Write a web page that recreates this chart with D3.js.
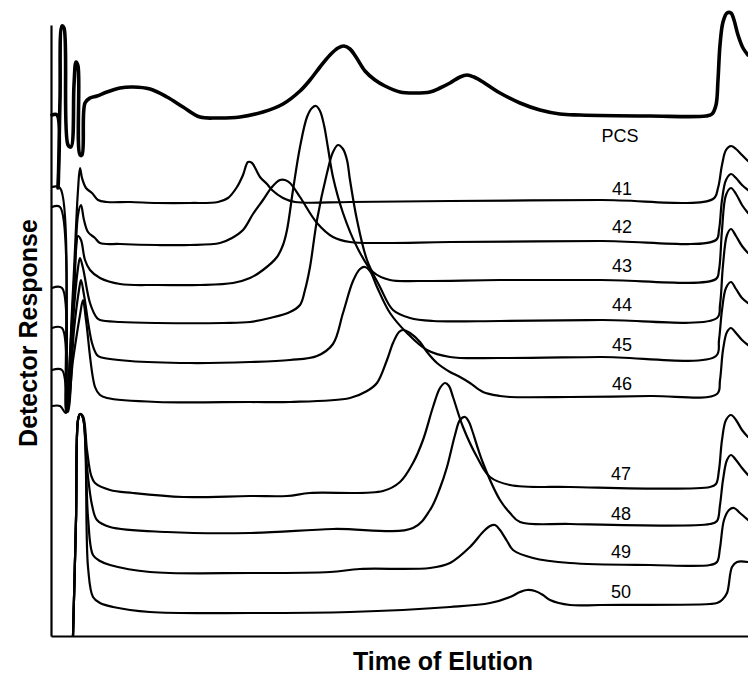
<!DOCTYPE html>
<html>
<head>
<meta charset="utf-8">
<script src="https://cdn.jsdelivr.net/npm/d3@7"></script>
<style>
  html, body { margin: 0; padding: 0; background: #fff; }
  svg { display: block; }
</style>
</head>
<body>
<svg id="chart" width="748" height="675"></svg>
<script>
// ---- Data: [time of elution, detector response] (arbitrary units) ----
const pcs = [[0.1,52.1],[0.6,52.1],[0.7,44.8],[0.9,53.6],[1.1,61.0],[1.3,60.8],[1.7,49.1],[2.0,48.9],[2.3,55.1],[2.5,57.4],[2.7,57.0],[2.9,48.1],[3.1,48.1],[3.4,53.3],[3.9,53.8],[4.6,54.0],[5.6,54.4],[6.9,54.8],[8.2,54.9],[9.9,54.7],[11.6,53.9],[13.2,52.9],[14.9,51.9],[16.6,51.8],[18.9,51.9],[21.2,52.4],[23.2,53.2],[24.9,54.5],[25.9,55.6],[26.9,56.9],[27.9,58.1],[28.7,58.8],[29.3,59.0],[29.9,58.7],[30.5,57.9],[31.4,56.5],[32.4,55.6],[33.4,55.0],[34.9,54.4],[36.4,54.3],[37.9,54.4],[38.9,54.8],[39.9,55.3],[40.9,55.9],[41.6,56.1],[42.3,55.9],[43.2,55.4],[44.1,54.8],[44.9,54.3],[46.9,53.3],[48.9,52.6],[50.9,52.2],[52.9,52.1],[59.9,52.0],[65.5,52.0],[66.1,52.2],[66.5,53.1],[66.7,55.6],[66.9,59.1],[67.2,61.4],[67.6,62.3],[68.0,62.3],[68.3,61.6],[68.7,60.1],[69.2,58.8],[69.7,58.1]];

const s41 = [[0.1,44.9],[0.9,44.8],[1.5,22.6],[2.2,34.6],[2.7,44.6],[2.9,46.8],[3.1,45.8],[3.5,44.8],[4.1,44.3],[4.7,43.6],[5.6,43.4],[7.9,43.4],[10.6,43.3],[13.9,43.3],[16.7,43.4],[17.7,43.8],[18.6,44.9],[19.2,46.1],[19.7,47.4],[20.1,47.3],[20.9,45.9],[21.6,45.2],[22.1,44.6],[23.2,43.8],[24.4,43.4],[29.9,43.4],[39.9,43.5],[54.9,43.6],[66.2,43.7],[66.7,44.8],[67.1,47.1],[67.5,48.6],[68.0,49.0],[68.5,48.7],[69.1,48.1],[69.7,47.5]];

const s42 = [[0.1,42.9],[0.9,42.9],[1.6,22.5],[2.3,33.6],[2.7,42.1],[3.0,43.1],[3.3,41.6],[3.7,40.4],[4.4,39.8],[4.9,39.3],[6.9,39.2],[10.6,39.1],[13.9,39.1],[16.9,39.3],[18.1,39.8],[19.2,40.6],[20.2,42.2],[21.2,43.6],[22.1,44.9],[22.9,45.6],[23.4,45.6],[23.9,45.3],[24.9,43.9],[26.6,41.3],[28.2,39.9],[29.9,39.4],[33.2,39.3],[39.9,39.4],[54.9,39.5],[66.5,39.6],[66.8,40.6],[67.1,43.6],[67.5,45.6],[68.0,46.2],[68.5,45.8],[69.1,45.1],[69.7,44.6]];

const s43 = [[0.1,34.8],[1.1,34.8],[1.5,22.4],[2.1,31.6],[2.5,38.6],[2.7,40.0],[3.0,39.6],[3.4,37.6],[3.9,36.6],[4.9,35.8],[6.9,35.2],[10.6,35.1],[14.9,35.1],[18.2,35.3],[19.9,35.8],[21.2,36.6],[22.6,37.9],[23.2,39.1],[23.6,40.6],[24.2,44.6],[24.9,48.9],[25.6,51.9],[26.1,52.8],[26.5,53.0],[26.9,52.5],[27.3,51.1],[27.7,48.8],[28.2,45.9],[29.2,42.3],[30.6,38.9],[32.2,36.4],[33.9,35.6],[36.9,35.5],[44.9,35.6],[54.9,35.6],[66.5,35.7],[66.8,36.6],[67.1,40.6],[67.5,44.1],[68.0,44.8],[68.5,44.2],[69.1,43.1],[69.7,42.3]];

const s44 = [[0.1,30.8],[1.1,30.8],[1.6,22.6],[2.2,31.6],[2.7,36.8],[2.9,37.8],[3.2,36.8],[3.9,33.3],[4.6,31.8],[4.9,31.6],[6.9,31.4],[10.6,31.3],[17.2,31.3],[19.9,31.4],[21.9,31.8],[23.9,32.4],[24.9,33.1],[25.4,34.6],[25.9,36.9],[26.6,41.6],[27.6,46.3],[28.2,48.4],[28.7,49.1],[29.2,48.7],[29.6,47.6],[29.9,45.6],[30.6,41.6],[31.6,37.6],[32.9,34.9],[34.2,32.6],[35.9,31.8],[38.2,31.5],[44.9,31.5],[54.9,31.6],[66.6,31.8],[66.9,33.1],[67.2,37.1],[67.6,40.1],[68.0,40.7],[68.5,40.0],[69.1,39.0],[69.7,38.3]];

const s45 = [[0.1,26.6],[1.1,26.6],[1.7,22.4],[2.3,30.6],[2.8,34.6],[3.0,35.6],[3.3,34.1],[4.1,29.3],[4.6,28.1],[4.9,27.9],[7.9,27.5],[13.9,27.3],[19.9,27.4],[23.9,27.6],[26.6,28.0],[28.2,29.2],[29.2,32.3],[30.2,35.5],[30.9,36.7],[31.4,36.9],[31.9,36.5],[32.6,34.9],[33.9,32.3],[35.6,30.3],[37.6,28.6],[39.9,27.9],[44.9,27.8],[54.9,27.9],[66.5,28.0],[66.8,29.6],[67.1,32.6],[67.5,34.8],[68.0,35.4],[68.5,34.7],[69.1,33.8],[69.7,33.3]];

const s46 = [[0.1,23.0],[0.9,23.0],[1.5,22.3],[2.2,27.6],[2.9,32.1],[3.2,33.6],[3.5,31.6],[4.4,24.9],[4.9,24.1],[5.6,23.8],[10.6,23.4],[19.9,23.4],[23.9,23.4],[29.9,23.8],[31.6,24.5],[32.6,25.3],[33.6,27.6],[34.2,29.3],[34.8,30.4],[35.2,30.6],[35.9,30.3],[36.9,29.4],[37.6,28.4],[38.6,27.3],[39.9,26.4],[40.9,25.9],[41.9,25.3],[43.2,24.4],[44.9,24.0],[45.9,23.9],[51.9,23.9],[59.9,24.0],[66.6,24.2],[66.9,25.6],[67.2,28.6],[67.6,30.4],[68.0,30.8],[68.5,30.3],[69.1,29.6],[69.7,29.1]];

const s47 = [[2.2,0.0],[2.5,11.6],[2.7,21.6],[2.9,22.2],[3.2,22.0],[3.6,18.6],[4.0,16.1],[4.4,15.3],[5.9,14.6],[8.2,14.3],[13.2,13.9],[19.9,14.0],[23.6,14.0],[25.9,14.3],[33.2,14.5],[34.9,15.4],[36.2,17.3],[37.2,19.6],[38.2,22.9],[38.9,24.8],[39.4,25.3],[39.8,25.0],[40.2,23.9],[41.2,20.9],[42.6,17.9],[43.9,15.9],[45.9,15.1],[51.9,14.9],[65.9,14.9],[66.5,15.2],[66.8,16.6],[67.1,19.6],[67.5,21.6],[68.0,22.1],[68.5,21.6],[69.1,20.6],[69.7,19.9]];

const s48 = [[2.2,0.0],[2.5,11.6],[2.7,21.6],[2.9,22.2],[3.2,21.8],[3.6,16.9],[4.1,13.1],[4.6,11.6],[5.9,10.9],[11.6,10.4],[19.9,10.3],[28.2,10.7],[36.2,10.8],[37.9,12.6],[38.9,14.8],[39.6,16.9],[40.4,20.1],[40.9,21.6],[41.4,21.9],[41.8,21.4],[42.1,20.6],[43.2,17.3],[44.9,13.6],[45.9,12.3],[46.9,11.4],[51.9,11.2],[65.9,11.2],[66.6,11.5],[66.9,13.1],[67.2,15.6],[67.6,17.6],[68.0,18.1],[68.5,17.6],[69.1,16.8],[69.7,16.1]];

const s49 = [[2.2,0.0],[2.5,11.6],[2.7,21.6],[2.9,22.2],[3.2,21.8],[3.7,11.9],[4.2,8.1],[4.9,7.5],[5.9,7.1],[9.9,6.4],[19.9,6.3],[27.9,6.4],[30.9,6.7],[37.9,6.8],[39.9,7.3],[41.9,8.9],[43.2,10.4],[43.9,11.0],[44.4,11.1],[44.9,10.6],[45.6,9.5],[46.2,8.6],[48.2,7.8],[51.9,7.3],[59.9,7.1],[65.9,7.1],[66.6,7.4],[66.9,8.8],[67.3,11.6],[67.8,12.6],[68.3,12.8],[68.9,12.3],[69.7,11.6]];

const s50 = [[2.2,0.0],[2.5,11.6],[2.7,21.6],[2.9,22.2],[3.2,21.8],[3.7,6.9],[4.2,3.9],[4.9,3.3],[6.2,2.9],[9.9,2.4],[19.9,2.3],[29.9,2.4],[39.9,2.9],[43.9,3.3],[45.9,3.9],[46.9,4.4],[47.6,4.6],[48.4,4.5],[49.2,4.1],[49.9,3.6],[51.9,3.1],[54.9,3.1],[65.9,3.2],[66.6,3.3],[67.1,3.6],[67.6,4.3],[68.1,6.9],[68.6,7.4],[69.7,7.4]];

const seriesNames = ["PCS","41","42","43","44","45","46","47","48","49","50"];
const seriesData  = [pcs, s41, s42, s43, s44, s45, s46, s47, s48, s49, s50];
// label anchor positions [time, response]
const labelPos = [[56.9,49.4],[57.1,44.1],[57.1,40.3],[57.1,36.4],[57.1,32.5],[57.1,28.5],[57.1,24.6],[57.0,15.6],[57.0,11.6],[57.0,7.8],[57.0,3.8]];

const xTitle = "Time of Elution";
const yTitle = "Detector Response";

// ---- Drawing ----
const svg = d3.select("#chart");
const x = d3.scaleLinear().domain([0, 69.7]).range([51, 748]);
const y = d3.scaleLinear().domain([0, 61.1]).range([636, 25]);

svg.append("rect").attr("width", 748).attr("height", 675).attr("fill", "#fff");

const line = d3.line()
  .x(d => x(d[0]))
  .y(d => y(d[1]))
  .curve(d3.curveCatmullRom.alpha(0.5));

svg.append("g")
  .selectAll("path")
  .data(seriesData)
  .join("path")
  .attr("d", line)
  .attr("fill", "none")
  .attr("stroke", "#000")
  .attr("stroke-width", (d, i) => i === 0 ? 3.6 : 2.2)
  .attr("stroke-linejoin", "round")
  .attr("stroke-linecap", "round");

// axes (domain lines only)
const xAxis = d3.axisBottom(x).tickValues([]).tickSizeOuter(0);
const yAxis = d3.axisLeft(y).tickValues([]).tickSizeOuter(0);
svg.append("g").attr("transform", `translate(0,${y(0)})`).call(xAxis)
  .select(".domain").attr("stroke", "#000").attr("stroke-width", 2.2);
svg.append("g").attr("transform", `translate(${x(0)},0)`).call(yAxis)
  .select(".domain").attr("stroke", "#000").attr("stroke-width", 2.2);

// series labels
svg.append("g")
  .selectAll("text")
  .data(seriesNames)
  .join("text")
  .attr("x", (d, i) => x(labelPos[i][0]))
  .attr("y", (d, i) => y(labelPos[i][1]))
  .attr("text-anchor", "middle")
  .attr("font-family", "'Liberation Sans', Arial, Helvetica, sans-serif")
  .attr("font-size", 18)
  .attr("fill", "#000")
  .text(d => d);

// axis titles
svg.append("text")
  .attr("x", 443).attr("y", 670)
  .attr("text-anchor", "middle")
  .attr("font-family", "'Liberation Sans', Arial, Helvetica, sans-serif")
  .attr("font-weight", "bold")
  .attr("font-size", 25)
  .attr("fill", "#000")
  .text(xTitle);

svg.append("text")
  .attr("transform", "translate(37,333) rotate(-90)")
  .attr("text-anchor", "middle")
  .attr("font-family", "'Liberation Sans', Arial, Helvetica, sans-serif")
  .attr("font-weight", "bold")
  .attr("font-size", 25)
  .attr("fill", "#000")
  .text(yTitle);
</script>
</body>
</html>
